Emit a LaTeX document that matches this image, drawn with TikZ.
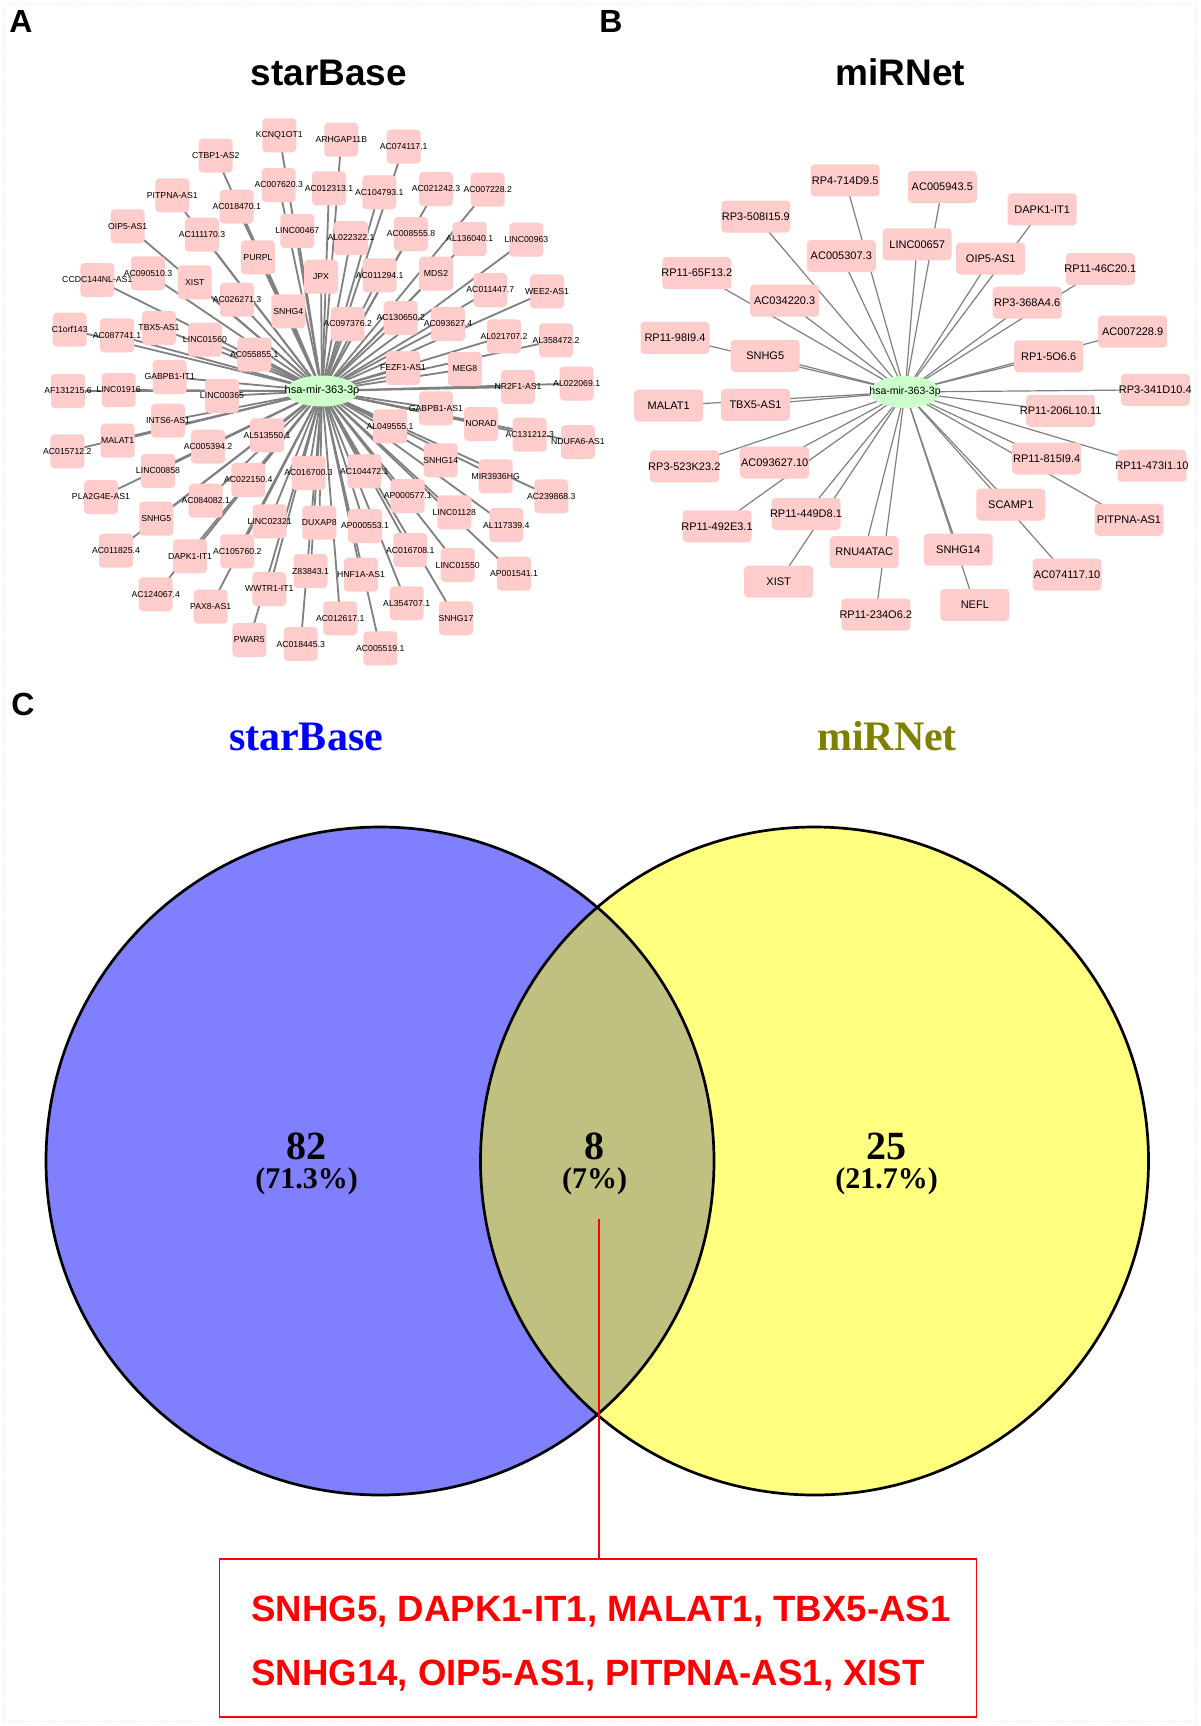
\documentclass[tikz,border=0pt]{standalone}
\usepackage{fontspec}
\setmainfont{Liberation Sans}
\newfontfamily\tnr{Liberation Serif}
\usetikzlibrary{backgrounds,shapes.geometric}
\definecolor{nodepink}{RGB}{255,204,204}
\definecolor{mirgreen}{RGB}{204,255,204}
\definecolor{edgegray}{RGB}{128,128,128}
\definecolor{vblue}{RGB}{128,128,255}
\definecolor{vyellow}{RGB}{255,255,128}
\definecolor{volive}{RGB}{192,192,128}
\definecolor{tolive}{RGB}{128,128,0}
\definecolor{tblue}{RGB}{0,0,255}
\definecolor{lred}{RGB}{255,0,0}
\tikzset{
  lncA/.style={fill=nodepink, rounded corners=4pt, minimum width=34pt, minimum height=34pt, inner sep=0pt, font=\fontsize{8.7}{10}\selectfont},
  lncB/.style={fill=nodepink, rounded corners=4pt, minimum width=69pt, minimum height=32pt, inner sep=0pt, font=\fontsize{11}{13}\selectfont},
  mirA/.style={ellipse, fill=mirgreen, minimum width=72pt, minimum height=31pt, inner sep=0pt, font=\fontsize{11}{13}\selectfont},
  mirB/.style={ellipse, fill=mirgreen, minimum width=70pt, minimum height=32pt, inner sep=0pt, font=\fontsize{10.5}{12}\selectfont},
  edgeA/.style={draw=edgegray, line width=1.8pt},
  edgeB/.style={draw=edgegray, line width=1.2pt},
  panellab/.style={anchor=base, font=\fontsize{32}{36}\selectfont\bfseries},
  nettitle/.style={anchor=base, font=\fontsize{37}{42}\selectfont\bfseries},
  venntitle/.style={anchor=base, font=\fontsize{42}{48}\selectfont\tnr\bfseries},
  vnum/.style={font=\fontsize{40}{44}\selectfont\tnr\bfseries},
  vpct/.style={font=\fontsize{30}{34}\selectfont\tnr\bfseries},
  vcircle/.style={draw=black, line width=2.7pt},
  listbox/.style={draw=lred, line width=1.8pt, minimum width=757pt, minimum height=158pt, inner sep=0pt},
  listtxt/.style={inner sep=0pt, align=left, text=lred, font=\fontsize{36.6}{64}\selectfont\bfseries},
}
\begin{document}
\begin{tikzpicture}[x=1pt,y=-1pt]
\useasboundingbox (0,0) rectangle (1200,1726);
\begin{scope}[on background layer]
  \fill[white] (0,0) rectangle (1200,1726);
  \draw[gray!22, dotted, line width=0.8pt] (4,4) rectangle (1196,1721);
\end{scope}

% panel labels and titles
\node[panellab] (labA) at (21,33) {A};
\node[panellab] (labB) at (611,33) {B};
\node[panellab] (labC) at (23,715) {C};
\node[nettitle] (tA) at (329,86) {starBase};
\node[nettitle] (tB) at (900.5,86) {miRNet};

% ---------- panel A network ----------
\node[mirA] (ac) at (322,391) {\makebox[0pt]{hsa-mir-363-3p}};
\foreach \n/\x/\y/\lab in {
a1/279.3/135.3/KCNQ1OT1, a2/215.7/155.7/CTBP1-AS2, a3/278.7/185/AC007620.3,
a4/172.3/195.3/PITPNA-AS1, a5/236.7/206.7/AC018470.1, a6/127.7/226.3/OIP5-AS1,
a7/202/234.7/AC111170.3, a8/297.3/231/LINC00467, a9/258/257.3/PURPL,
a10/194.7/282.3/XIST, a11/148/273.3/AC090510.3, a12/97.3/280/CCDC144NL-AS1,
a13/237/299.7/AC026271.3, a14/288.3/311.3/SNHG4, a15/321/276.7/JPX,
a16/69.7/329.7/C1orf143, a17/117/335.3/AC087741.1, a18/159/328/TBX5-AS1,
a19/205/339.7/LINC01560, a20/254.3/354.7/AC055855.1, a21/169.7/377/GABPB1-IT1,
a22/222/396/LINC00365, a23/68/391/AF131215.6, a24/118.7/390/LINC01916,
a25/341.3/139.7/ARHGAP11B, a26/403.7/146.7/AC074117.1, a27/329/188.3/AC012313.1,
a28/379.3/192.3/AC104793.1, a29/436/189/AC021242.3, a30/487.7/189.7/AC007228.2,
a31/351/238/AL022322.1, a32/411/234/AC008555.8, a33/469.7/239/AL136040.1,
a34/526.3/239.7/LINC00963, a35/379.7/275.3/AC011294.1, a36/436/273.7/MDS2,
a37/490.3/290/AC011447.7, a38/547/291.3/WEE2-AS1, a39/347.7/324/AC097376.2,
a40/400.7/318/AC130650.2, a41/448/324/AC093627.4, a42/504/336.3/AL021707.2,
a43/556/340.3/AL358472.2, a44/403/368/FEZF1-AS1, a45/465/369/MEG8,
a46/518/387/NR2F1-AS1, a47/576.7/383.5/AL022069.1, a48/168/420.7/INTS6-AS1,
a49/117.7/440.7/MALAT1, a50/67.3/451.3/AC015712.2, a51/267/435.3/AL513550.1,
a52/208/446.7/AC005394.2, a53/158/471/LINC00858, a54/308.5/473/AC016700.3,
a55/248.3/480/AC022150.4, a56/101/497/PLA2G4E-AS1, a57/205.7/500.7/AC084082.1,
a58/156.3/518.7/SNHG5, a59/269.7/521.3/LINC02321, a60/319.3/522.7/DUXAP8,
a61/116/550.7/AC011825.4, a62/190/556.3/DAPK1-IT1, a63/237.3/551.3/AC105760.2,
a64/310.5/571/Z83843.1, a65/155.7/594.3/AC124067.4, a66/269.3/589/WWTR1-IT1,
a67/210.7/606.7/PAX8-AS1, a68/249.3/640/PWAR5, a69/300.7/644/AC018445.3,
a70/436/408.3/GABPB1-AS1, a71/481/424/NORAD, a72/529.7/434.7/AC131212.3,
a73/578/442/NDUFA6-AS1, a74/390/426.3/AL049555.1, a75/440.7/460.3/SNHG14,
a76/364.3/471.3/AC104472.1, a77/495.7/476.3/MIR3936HG, a78/551.3/496.3/AC239868.3,
a79/407.7/496/AP000577.1, a80/454.3/512.3/LINC01128, a81/506.3/525/AL117339.4,
a82/365/526/AP000553.1, a83/410.3/550/AC016708.1, a84/457.7/565/LINC01550,
a85/514/573.7/AP001541.1, a86/361/574.7/HNF1A-AS1, a87/406.7/603.3/AL354707.1,
a88/456/618.3/SNHG17, a89/340.3/618.3/AC012617.1, a90/380.3/648.3/AC005519.1}
  \node[lncA] (\n) at (\x,\y) {\makebox[0pt]{\lab}};

% ---------- panel B network ----------
\node[mirB] (bc) at (905,392) {\makebox[0pt]{hsa-mir-363-3p}};
\foreach \n/\x/\y/\lab in {
b1/845.2/180.3/RP4-714D9.5, b2/755.8/216.5/RP3-508I15.9, b3/841.3/256/AC005307.3,
b4/696.8/273/RP11-65F13.2, b5/784.7/300.7/AC034220.3, b6/675/337.8/RP11-98I9.4,
b7/765.2/355.8/SNHG5, b8/668.7/405.5/MALAT1, b9/755.5/404.8/TBX5-AS1,
b10/942.3/187/AC005943.5, b11/917.2/244.3/LINC00657, b12/1042.2/209.3/DAPK1-IT1,
b13/990.7/258.5/OIP5-AS1, b14/1100.3/269.2/RP11-46C20.1, b15/1027.2/302.7/RP3-368A4.6,
b16/1132.7/331.5/AC007228.9, b17/1048.7/356.3/RP1-5O6.6, b18/1155.3/389.8/RP3-341D10.4,
b19/1060.7/410.8/RP11-206L10.11, b20/684.3/466.3/RP3-523K23.2, b21/774.7/462.5/AC093627.10,
b22/717/526.3/RP11-492E3.1, b23/806/514/RP11-449D8.1, b24/778.7/581.7/XIST,
b25/864.2/552.2/RNU4ATAC, b26/875.8/614.5/RP11-234O6.2, b27/1046.7/458.5/RP11-815I9.4,
b28/1152/465.7/RP11-473I1.10, b29/1010.8/504.5/SCAMP1, b30/1129/519.8/PITPNA-AS1,
b31/958.2/549.7/SNHG14, b32/1067/574.7/AC074117.10, b33/974.8/605/NEFL}
  \node[lncB] (\n) at (\x,\y) {\makebox[0pt]{\lab}};

\begin{scope}[on background layer]
  \foreach \i in {1,...,90} \draw[edgeA] (ac.center) -- (a\i.center);
  \foreach \i in {1,...,33} \draw[edgeB] (bc.center) -- (b\i.center);
\end{scope}

% ---------- panel C Venn ----------
\node[venntitle, text=tblue] (vtA) at (306,750.5) {starBase};
\node[venntitle, text=tolive] (vtB) at (887,750.5) {miRNet};
\fill[vblue] (380,1161) circle[radius=334pt];
\fill[vyellow] (814.5,1161) circle[radius=334pt];
\begin{scope}
  \clip (380,1161) circle[radius=334pt];
  \fill[volive] (814.5,1161) circle[radius=334pt];
\end{scope}
\draw[vcircle] (380,1161) circle[radius=334pt];
\draw[vcircle] (814.5,1161) circle[radius=334pt];

\node[vnum] (n82) at (306.5,1146) {82};
\node[vpct] (p82) at (306.5,1181) {(71.3\%)};
\node[vnum] (n8) at (594.7,1146) {8};
\node[vpct] (p8) at (594.7,1181) {(7\%)};
\node[vnum] (n25) at (886.6,1146) {25};
\node[vpct] (p25) at (886.6,1181) {(21.7\%)};

\coordinate (ov) at (599,1219);
\node[listbox] (list) at (598,1638) {};
\node[listtxt] (listtxt) at (601,1643.5) {SNHG5, DAPK1-IT1, MALAT1, TBX5-AS1\\SNHG14, OIP5-AS1, PITPNA-AS1, XIST};
\draw[draw=lred, line width=1.5pt] (ov) -- (ov |- list.north);
\end{tikzpicture}
\end{document}
